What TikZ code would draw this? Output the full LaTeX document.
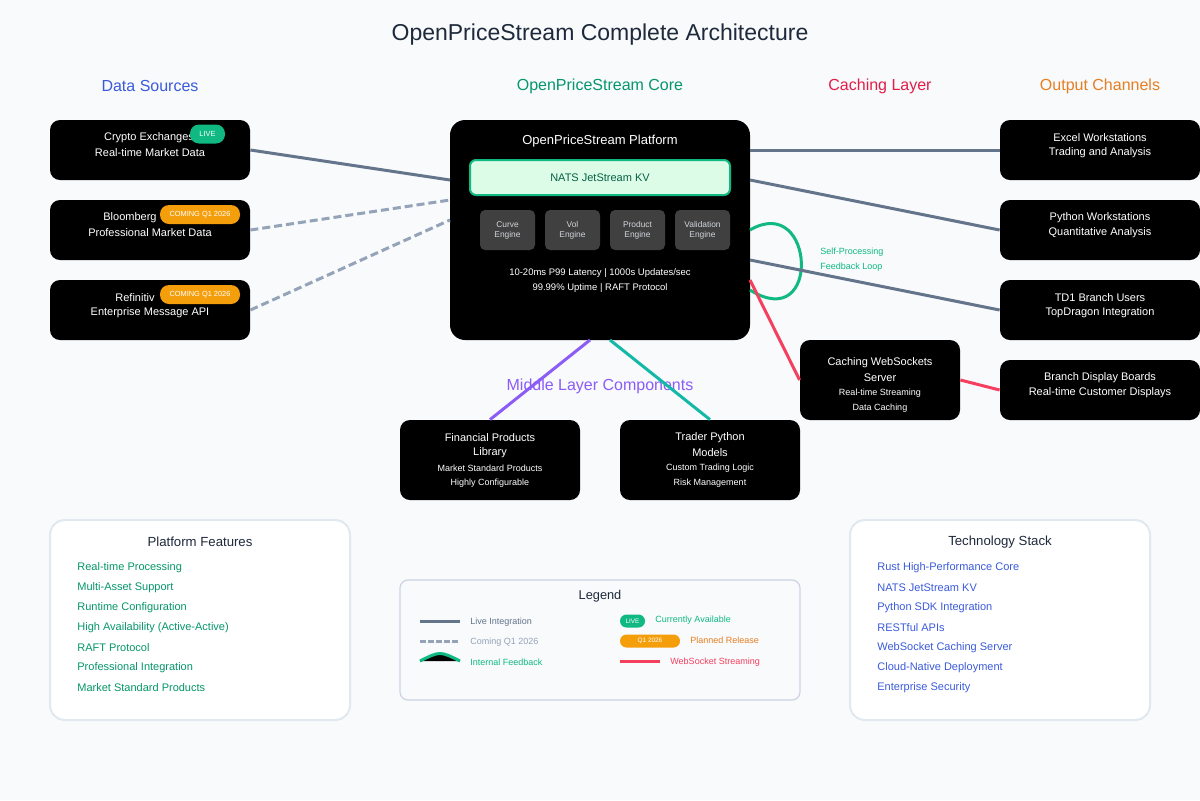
\documentclass[tikz,border=0pt]{standalone}
\usepackage{fontspec}
\setmainfont{Liberation Sans}
\definecolor{bg}{HTML}{F8FAFC}
\definecolor{slate}{HTML}{64748B}
\definecolor{dashc}{HTML}{94A3B8}
\definecolor{grn}{HTML}{10B981}
\definecolor{dkgrn}{HTML}{059669}
\definecolor{blu}{HTML}{3B5BDB}
\definecolor{crim}{HTML}{E11D48}
\definecolor{redl}{HTML}{F43F5E}
\definecolor{orng}{HTML}{E67E22}
\definecolor{badgeor}{HTML}{F59E0B}
\definecolor{purp}{HTML}{8B5CF6}
\definecolor{teal}{HTML}{14B8A6}
\definecolor{ttl}{HTML}{1E293B}
\definecolor{eng}{HTML}{404040}
\definecolor{engt}{HTML}{D1D5DB}
\definecolor{natsf}{HTML}{DCFCE7}
\definecolor{natst}{HTML}{065F46}
\definecolor{cardb}{HTML}{E2E8F0}
\definecolor{legb}{HTML}{CBD5E1}
\begin{document}
\begin{tikzpicture}[x=0.5pt,y=-0.5pt,
  blackbox/.style={fill=black, rounded corners=5pt, inner sep=0, minimum width=100pt, minimum height=30pt},
  wt/.style={inner sep=0, text=white, yshift=-0.8pt},
  fb/.style={font=\fontsize{5.5}{6.6}\selectfont},
  fsm/.style={font=\fontsize{4.5}{5.4}\selectfont},
  badge/.style={rounded corners=4.5pt, inner sep=0, text=white, font=\fontsize{3.7}{4.4}\selectfont, minimum height=9.5pt},
  header/.style={inner sep=0, yshift=-0.6pt, font=\fontsize{8}{9.6}\selectfont},
  live/.style={draw=slate, line width=1.5pt},
  soon/.style={draw=dashc, line width=1.5pt, dash pattern=on 4pt off 2pt},
  engine/.style={fill=eng, rounded corners=2.5pt, minimum width=27.5pt, minimum height=20pt, inner sep=0, text=engt, align=center, font=\fontsize{4.2}{5}\selectfont},
  card/.style={fill=white, draw=cardb, line width=1pt, rounded corners=7.5pt, minimum width=150pt, minimum height=100pt, inner sep=0},
  item/.style={inner sep=0, anchor=west, yshift=-0.8pt, font=\fontsize{5.5}{6.6}\selectfont},
  leg/.style={inner sep=0, anchor=west, yshift=-0.5pt, font=\fontsize{4.5}{5.4}\selectfont}
]
\useasboundingbox[fill=bg] (0,0) rectangle (1200,800);

% title and headers
\node[inner sep=0, yshift=-1.3pt, text=ttl, font=\fontsize{11.5}{13.8}\selectfont] (title) at (600,32) {OpenPriceStream Complete Architecture};
\node[header, text=blu] (hds) at (150,85) {Data Sources};
\node[header, text=dkgrn] (hcore) at (600,85) {OpenPriceStream Core};
\node[header, text=crim] (hcache) at (880,85) {Caching Layer};
\node[header, text=orng] (hout) at (1100,85) {Output Channels};

% data sources
\node[blackbox] (crypto) at (150,150) {};
\node[wt, fb] (cryptoT) at (149,136) {Crypto Exchanges};
\node[wt, fb] (cryptoS) at (150,151) {Real-time Market Data};
\node[badge, fill=grn, minimum width=17.5pt] (b1) at (207.5,134) {LIVE};

\node[blackbox] (bloom) at (150,230) {};
\node[wt, fb] (bloomT) at (130,216) {Bloomberg};
\node[wt, fb] (bloomS) at (150,231) {Professional Market Data};
\node[badge, fill=badgeor, minimum width=40pt] (b2) at (200,214.5) {COMING Q1 2026};

\node[blackbox] (refin) at (150,310) {};
\node[wt, fb] (refinT) at (135,296) {Refinitiv};
\node[wt, fb] (refinS) at (150,311) {Enterprise Message API};
\node[badge, fill=badgeor, minimum width=40pt] (b3) at (200,294.5) {COMING Q1 2026};

% core
\node[fill=black, rounded corners=7.5pt, minimum width=150pt, minimum height=110pt, inner sep=0] (core) at (600,230) {};
\node[wt, font=\fontsize{6.5}{7.8}\selectfont] (coreT) at (600,140) {OpenPriceStream Platform};
\node[fill=natsf, draw=grn, line width=1pt, rounded corners=3pt, minimum width=130pt, minimum height=17.5pt, inner sep=0, text=natst, fb] (nats) at (600,177.5) {NATS JetStream KV};
\node[engine] (e1) at (507.5,230) {Curve\\Engine};
\node[engine] (e2) at (572.5,230) {Vol\\Engine};
\node[engine] (e3) at (637.5,230) {Product\\Engine};
\node[engine] (e4) at (702.5,230) {Validation\\Engine};
\node[wt, font=\fontsize{4.75}{5.7}\selectfont] (stat1) at (600,271) {10-20ms P99 Latency | 1000s Updates/sec};
\node[wt, font=\fontsize{4.75}{5.7}\selectfont] (stat2) at (600,286) {99.99\% Uptime | RAFT Protocol};

% outputs
\node[blackbox] (excel) at (1100,150) {};
\node[wt, fb] at (1100,136) {Excel Workstations};
\node[wt, fb] at (1100,151) {Trading and Analysis};
\node[blackbox] (python) at (1100,230) {};
\node[wt, fb] at (1100,216) {Python Workstations};
\node[wt, fb] at (1100,231) {Quantitative Analysis};
\node[blackbox] (td1) at (1100,310) {};
\node[wt, fb] at (1100,296) {TD1 Branch Users};
\node[wt, fb] at (1100,311) {TopDragon Integration};
\node[blackbox] (branch) at (1100,390) {};
\node[wt, fb] at (1100,376) {Branch Display Boards};
\node[wt, fb] at (1100,391) {Real-time Customer Displays};

% cache
\node[blackbox, minimum width=80pt, minimum height=40pt] (cache) at (880,380) {};
\node[wt, fb] at (880,361) {Caching WebSockets};
\node[wt, fb] at (880,376) {Server};
\node[wt, fsm] at (880,392) {Real-time Streaming};
\node[wt, fsm] at (880,407) {Data Caching};

% middle
\node[header, text=purp] (hmid) at (600,385) {Middle Layer Components};
\node[blackbox, minimum width=90pt, minimum height=40pt] (fin) at (490,460) {};
\node[wt, fb] at (490,436) {Financial Products};
\node[wt, fb] at (490,451) {Library};
\node[wt, fsm] at (490,467) {Market Standard Products};
\node[wt, fsm] at (490,482) {Highly Configurable};
\node[blackbox, minimum width=90pt, minimum height=40pt] (trader) at (710,460) {};
\node[wt, fb] at (710,436) {Trader Python};
\node[wt, fb] at (710,451) {Models};
\node[wt, fsm] at (710,467) {Custom Trading Logic};
\node[wt, fsm] at (710,482) {Risk Management};

% connection points on the core
\coordinate (cL1) at (450,180);
\coordinate (cL2) at (450,200);
\coordinate (cL3) at (450,220);
\coordinate (cR1) at (750,150);
\coordinate (cR2) at (750,180);
\coordinate (cR3) at (750,260);
\coordinate (cR4) at (750,280);
\coordinate (fbA) at (750,230);
\coordinate (fbB) at (750,290);
\coordinate (cB1) at (590,340);
\coordinate (cB2) at (610,340);

\draw[live] (crypto.east) -- (cL1);
\draw[soon] (bloom.east) -- (cL2);
\draw[soon] (refin.east) -- (cL3);
\draw[live] (cR1) -- (excel.west);
\draw[live] (cR2) -- (python.west);
\draw[draw=grn, line width=1.5pt] (fbA) .. controls (815,192) and (822,335) .. (fbB);
\draw[live] (cR3) -- (td1.west);
\draw[draw=redl, line width=1.5pt] (cR4) -- (cache.west);
\draw[draw=redl, line width=1.5pt] (cache.east) -- (branch.west);
\draw[draw=purp, line width=1.5pt] (cB1) -- (fin.north);
\draw[draw=teal, line width=1.5pt] (cB2) -- (trader.north);
\node[inner sep=0, anchor=west, yshift=-0.6pt, text=grn, fsm] (fbl1) at (820,251) {Self-Processing};
\node[inner sep=0, anchor=west, yshift=-0.6pt, text=grn, fsm] (fbl2) at (820,266) {Feedback Loop};

% platform features
\node[card] (feat) at (200,620) {};
\node[inner sep=0, yshift=-0.8pt, text=ttl, font=\fontsize{6.6}{7.9}\selectfont] at (200,540) {Platform Features};
\foreach \t [count=\i from 0] in {Real-time Processing, Multi-Asset Support, Runtime Configuration, High Availability (Active-Active), RAFT Protocol, Professional Integration, Market Standard Products}
  \node[item, text=dkgrn] at (77,566+20*\i) {\t};

% technology stack
\node[card] (tech) at (1000,620) {};
\node[inner sep=0, yshift=-0.8pt, text=ttl, font=\fontsize{6.6}{7.9}\selectfont] at (1000,540) {Technology Stack};
\foreach \t [count=\i from 0] in {Rust High-Performance Core, NATS JetStream KV, Python SDK Integration, RESTful APIs, WebSocket Caching Server, Cloud-Native Deployment, Enterprise Security}
  \node[item, text=blu] at (877,566+20*\i) {\t};

% legend
\node[fill=bg, draw=legb, line width=0.6pt, rounded corners=4pt, minimum width=200pt, minimum height=60pt, inner sep=0] (legend) at (600,640) {};
\node[inner sep=0, yshift=-0.8pt, text=ttl, font=\fontsize{6.4}{7.7}\selectfont] at (600,595) {Legend};
\draw[live] (420,621) -- (460,621);
\node[leg, text=slate] at (470,621.5) {Live Integration};
\draw[soon, dash pattern=on 3pt off 1pt] (420,641) -- (460,641);
\node[leg, text=dashc] at (470,641.5) {Coming Q1 2026};
\draw[draw=grn, line width=1.5pt, fill=black] (420,661) .. controls (440,651) .. (460,661);
\node[leg, text=grn] at (470,661.5) {Internal Feedback};
\node[badge, fill=grn, minimum width=12.5pt, minimum height=6.5pt, rounded corners=3.25pt, font=\fontsize{3.2}{3.8}\selectfont] at (632.5,621) {LIVE};
\node[leg, text=grn] at (655,619.5) {Currently Available};
\node[badge, fill=badgeor, minimum width=30pt, minimum height=6.5pt, rounded corners=3.25pt, font=\fontsize{3.2}{3.8}\selectfont] at (650,641) {Q1 2026};
\node[leg, text=orng] at (690,639.5) {Planned Release};
\draw[draw=redl, line width=1.5pt] (620,661) -- (660,661);
\node[leg, text=redl] at (670,661.5) {WebSocket Streaming};
\end{tikzpicture}
\end{document}
